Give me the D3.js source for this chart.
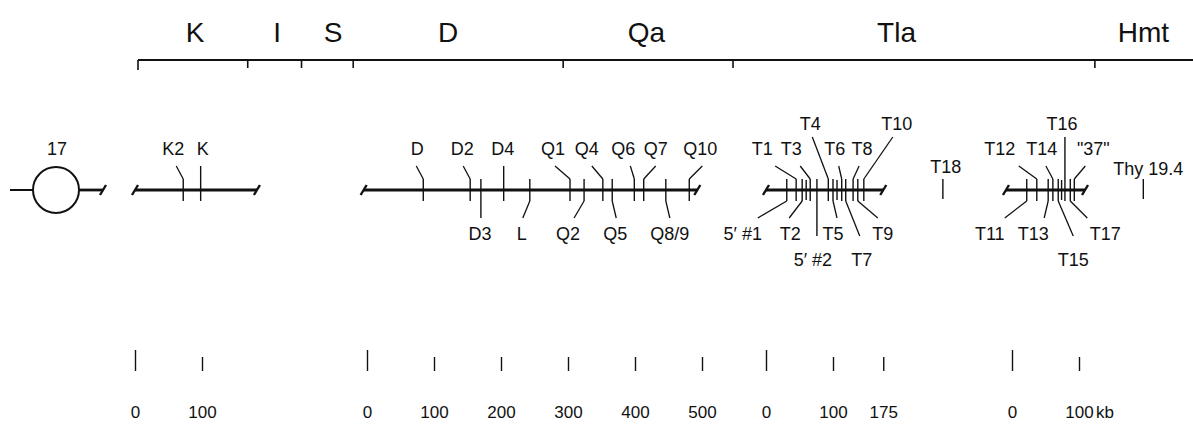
<!DOCTYPE html>
<meta charset="utf-8">
<script src="https://d3js.org/d3.v7.min.js"></script>
<style>
  body { margin: 0; background: #fff; }
  text { font-family: "Liberation Sans", Arial, Helvetica, sans-serif; fill: #111; }
</style>
<div id="my_dataviz"></div>
<script>

// ---- data ----
// top bar: regions of the complex (relative map units, 0-100)
var regionNames = ["K", "I", "S", "D", "Qa", "Tla", "Hmt"];
var regionCenters = [5.4, 13.2, 18.5, 29.4, 48.2, 71.9, 95.3];
var regionBounds = [0, 10.4, 15.5, 20.4, 40.3, 56.4, 90.7];

// cloned segments, extents in kb
var segNames = ["K", "D", "Tla", "Hmt"];
var segStart = [0, -5, 0, -9];
var segEnd = [182, 493, 175, 109];

// markers (kb along each segment)
var kNames = ["K2", "K"];
var kPos = [72, 98];
var dNames = ["D", "D2", "D3", "D4", "L", "Q1", "Q2", "Q4", "Q5", "Q6", "Q7", "Q8/9", "Q10"];
var dPos = [84, 154, 170, 204, 243, 303, 324, 352, 366, 399, 413, 446, 481];
var tlaNames = ["5\u2032 #1", "T1", "T2", "T3", "5\u2032 #2", "T4", "T5", "T6", "T7", "T8", "T9", "T10"];
var tlaPos = [31, 45, 54, 66, 76, 93, 100, 113, 119, 130, 137, 146];
var hmtNames = ["T11", "T12", "T13", "T14", "T15", "T16", "T17", "\"37\""];
var hmtPos = [22, 37, 54, 61, 69, 79, 87, 93];

// unlabelled sites inside the clusters (kb)
var tlaExtra = [60, 106];
var hmtExtra = [74];

// isolated probes (no contig line)
var loneNames = ["T18", "Thy 19.4"];
var loneSeg = ["Tla", "Hmt"];
var lonePos = [264, 196];

// kb scale bars
var scaleTicks = {
  K: [0, 100],
  D: [0, 100, 200, 300, 400, 500],
  Tla: [0, 100, 175],
  Hmt: [0, 100]
};

// ---- layout ----
var width = 1193, height = 429;
var pxPerKb = 0.67;
var lineY = 190;
var segOrigin = { K: 135, D: 367, Tla: 766, Hmt: 1012 };

// label placement: side, row, label dx, leader dx (null = straight tick)
var labelLayout = {
  "K2": ["up", 1, -10, -7], "K": ["up", 1, 2, null],
  "D": ["up", 1, -6, -7], "D2": ["up", 1, -8, -7], "D3": ["down", 1, -1, null],
  "D4": ["up", 1, -1, null], "L": ["down", 1, -8, -7], "Q1": ["up", 1, -17, -15],
  "Q2": ["down", 1, -16, -10], "Q4": ["up", 1, -16, -11], "Q5": ["down", 1, 3, 4],
  "Q6": ["up", 1, -11, -4], "Q7": ["up", 1, 12, 12], "Q8/9": ["down", 1, 4, 4],
  "Q10": ["up", 1, 11, 13],
  "5\u2032 #1": ["down", 1, -44, -29], "T1": ["up", 1, -34, -21], "T2": ["down", 1, -12, -13],
  "T3": ["up", 1, -19, -10], "5\u2032 #2": ["down", 2, -4, null], "T4": ["up", 2, -18, -16],
  "T5": ["down", 1, 0, 4], "T6": ["up", 1, -7, -3], "T7": ["down", 2, 16, 14],
  "T8": ["up", 1, 9, 6], "T9": ["down", 1, 25, 20], "T10": ["up", 2, 33, 29],
  "T11": ["down", 1, -37, -22], "T12": ["up", 1, -37, -18], "T13": ["down", 1, -15, -4],
  "T14": ["up", 1, -11, -7], "T15": ["down", 2, 15, 15], "T16": ["up", 2, -3, null],
  "T17": ["down", 1, 35, 17], "\"37\"": ["up", 1, 19, 11]
};

var svg = d3.select("#my_dataviz")
  .append("svg")
    .attr("width", width)
    .attr("height", height);

// one x scale per segment
var xs = {};
segNames.forEach(function(s) {
  xs[s] = d3.scaleLinear()
    .domain([0, 100])
    .range([segOrigin[s], segOrigin[s] + 100 * pxPerKb]);
});

// ---- top region bar ----
var topX = d3.scaleLinear().domain([0, 100]).range([138, width]);
svg.append("line")
  .attr("x1", topX(0)).attr("x2", topX(100))
  .attr("y1", 60).attr("y2", 60)
  .attr("stroke", "#111").attr("stroke-width", 2);
svg.selectAll(".rtick")
  .data(regionBounds)
  .enter().append("line")
  .attr("x1", function(d) { return topX(d); })
  .attr("x2", function(d) { return topX(d); })
  .attr("y1", 60)
  .attr("y2", function(d, i) { return i == 0 ? 70 : 68; })
  .attr("stroke", "#111").attr("stroke-width", 1.6);
svg.selectAll(".rlab")
  .data(regionNames)
  .enter().append("text")
  .attr("x", function(d, i) { return topX(regionCenters[i]); })
  .attr("y", 42)
  .attr("text-anchor", "middle")
  .style("font-size", "28px")
  .text(function(d) { return d; });

// ---- chromosome 17 centromere ----
svg.append("line").attr("x1", 10).attr("x2", 33).attr("y1", lineY).attr("y2", lineY)
  .attr("stroke", "#111").attr("stroke-width", 2);
svg.append("circle").attr("cx", 56).attr("cy", lineY).attr("r", 23)
  .attr("fill", "none").attr("stroke", "#111").attr("stroke-width", 2);
svg.append("line").attr("x1", 79).attr("x2", 103).attr("y1", lineY).attr("y2", lineY)
  .attr("stroke", "#111").attr("stroke-width", 2.8);
svg.append("line").attr("x1", 100).attr("x2", 106).attr("y1", lineY + 5).attr("y2", lineY - 5)
  .attr("stroke", "#111").attr("stroke-width", 2.4);
svg.append("text").attr("x", 57).attr("y", 155).attr("text-anchor", "middle")
  .style("font-size", "18px").text("17");

// ---- contig lines with slashed ends ----
segNames.forEach(function(s, i) {
  var x = xs[s];
  var g = svg.append("g");
  g.append("line")
    .attr("x1", x(segStart[i])).attr("x2", x(segEnd[i]))
    .attr("y1", lineY).attr("y2", lineY)
    .attr("stroke", "#111").attr("stroke-width", 2.8);
  [segStart[i], segEnd[i]].forEach(function(v) {
    g.append("line")
      .attr("x1", x(v) - 3).attr("x2", x(v) + 3)
      .attr("y1", lineY + 5).attr("y2", lineY - 5)
      .attr("stroke", "#111").attr("stroke-width", 2.4);
  });
});

// ---- markers ----
var rowY = { up: { 1: 166, 2: 137 }, down: { 1: 218, 2: 236 } };
var rowText = { up: { 1: 155, 2: 130 }, down: { 1: 240, 2: 266 } };

function drawMarkers(seg, names, pos) {
  var x = xs[seg];
  var g = svg.append("g");
  names.forEach(function(n, i) {
    var lay = labelLayout[n];
    var side = lay[0], row = lay[1];
    var tx = x(pos[i]);
    var endY = rowY[side][row];
    var y1 = lineY - 11, y2 = lineY + 11;
    if (lay[3] === null) {
      if (side == "up") y1 = endY; else y2 = endY;
    } else {
      var sy = side == "up" ? y1 : y2;
      g.append("line")
        .attr("x1", tx).attr("y1", sy)
        .attr("x2", tx + lay[3]).attr("y2", endY)
        .attr("stroke", "#111").attr("stroke-width", 1.3);
    }
    g.append("line")
      .attr("x1", tx).attr("x2", tx).attr("y1", y1).attr("y2", y2)
      .attr("stroke", "#111").attr("stroke-width", 1.4);
    g.append("text")
      .attr("x", tx + lay[2])
      .attr("y", rowText[side][row])
      .attr("text-anchor", "middle")
      .style("font-size", "18px")
      .text(n);
  });
}
drawMarkers("K", kNames, kPos);
drawMarkers("D", dNames, dPos);
drawMarkers("Tla", tlaNames, tlaPos);
drawMarkers("Hmt", hmtNames, hmtPos);

// unlabelled ticks
[["Tla", tlaExtra], ["Hmt", hmtExtra]].forEach(function(p) {
  svg.selectAll(null)
    .data(p[1])
    .enter().append("line")
    .attr("x1", function(d) { return xs[p[0]](d); })
    .attr("x2", function(d) { return xs[p[0]](d); })
    .attr("y1", lineY - 10).attr("y2", lineY + 10)
    .attr("stroke", "#111").attr("stroke-width", 1.4);
});

// isolated probes
loneNames.forEach(function(n, i) {
  var tx = xs[loneSeg[i]](lonePos[i]);
  svg.append("line")
    .attr("x1", tx).attr("x2", tx).attr("y1", lineY - 11).attr("y2", lineY + 9)
    .attr("stroke", "#111").attr("stroke-width", 1.4);
  svg.append("text")
    .attr("x", tx + (i == 0 ? 3 : 5))
    .attr("y", i == 0 ? 173 : 175)
    .attr("text-anchor", "middle")
    .style("font-size", "18px")
    .text(n);
});

// ---- kb scale bars ----
var scaleTop = 350;
segNames.forEach(function(s) {
  var ax = d3.axisBottom(xs[s])
    .tickValues(scaleTicks[s])
    .tickSize(21)
    .tickFormat(d3.format("d"));
  var g = svg.append("g")
    .attr("transform", "translate(0," + scaleTop + ")")
    .call(ax);
  g.select(".domain").remove();
  g.selectAll(".tick line")
    .attr("stroke", "#111")
    .attr("stroke-width", 1.4)
    .attr("y1", function(d) { return d == 0 ? 0 : 7; });
  g.selectAll(".tick text")
    .attr("y", 68)
    .attr("dy", 0)
    .style("font-size", "17px")
    .style("font-family", "'Liberation Sans', Arial, sans-serif")
    .attr("fill", "#111");
  if (s == "Hmt") {
    g.append("text")
      .attr("x", xs[s](100) + 17)
      .attr("y", 68)
      .attr("text-anchor", "start")
      .style("font-size", "17px")
      .attr("fill", "#111")
      .text("kb");
  }
});

</script>
